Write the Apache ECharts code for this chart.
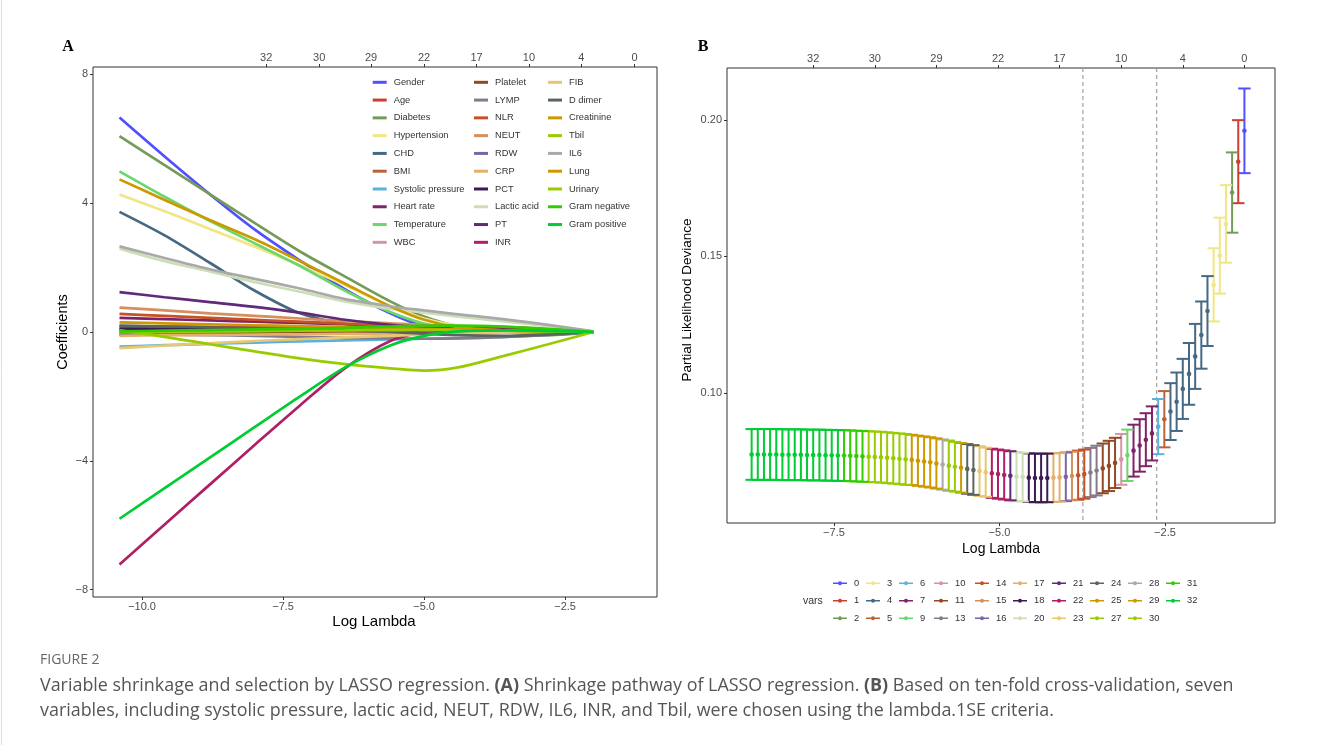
<!DOCTYPE html>
<html><head><meta charset="utf-8">
<script src="https://cdn.jsdelivr.net/npm/echarts@6/dist/echarts.min.js"></script>
<style>html,body{margin:0;padding:0;background:#fff}#c{width:1328px;height:745px}</style>
</head><body><div id="c"></div>
<script>
// ---------- Panel A: coefficient paths (log lambda nodes) ----------
const pathX = [-10.4, -9.6, -8.8, -8.0, -7.2, -6.4, -5.6, -5.0, -4.4, -3.6, -2.8, -2.0];
const gender       = [6.66, 5.45, 4.28, 3.18, 2.22, 1.32, 0.58, 0.18, 0.03, 0.0, 0.0, 0.0];
const age          = [0.18, 0.17, 0.16, 0.15, 0.13, 0.11, 0.09, 0.07, 0.05, 0.03, 0.01, 0.0];
const diabetes     = [6.08, 5.18, 4.28, 3.38, 2.5, 1.72, 0.95, 0.48, 0.18, 0.0, -0.1, 0.0];
const hypertension = [4.27, 3.75, 3.2, 2.65, 2.07, 1.45, 0.8, 0.42, 0.2, 0.08, 0.03, 0.0];
const chd          = [3.73, 3.0, 2.15, 1.28, 0.58, 0.25, 0.12, 0.06, 0.03, 0.01, 0.0, 0.0];
const bmi          = [0.05, 0.04, 0.03, 0.02, 0.01, 0.0, -0.02, -0.03, -0.03, -0.02, -0.01, 0.0];
const systolic     = [-0.45, -0.41, -0.37, -0.33, -0.29, -0.26, -0.23, -0.21, -0.19, -0.15, -0.09, 0.0];
const heartRate    = [0.44, 0.4, 0.36, 0.32, 0.28, 0.24, 0.2, 0.16, 0.12, 0.08, 0.04, 0.0];
const temperature  = [4.99, 4.2, 3.45, 2.75, 2.05, 1.28, 0.62, 0.26, 0.08, 0.0, 0.0, 0.0];
const wbc          = [0.08, 0.07, 0.06, 0.05, 0.04, 0.03, 0.02, 0.02, 0.01, 0.01, 0.0, 0.0];
const platelet     = [-0.08, -0.07, -0.06, -0.05, -0.04, -0.04, -0.03, -0.03, -0.02, -0.02, -0.01, 0.0];
const lymp         = [-0.05, -0.08, -0.1, -0.12, -0.15, -0.18, -0.2, -0.21, -0.2, -0.16, -0.09, 0.0];
const nlr          = [0.56, 0.5, 0.44, 0.38, 0.32, 0.26, 0.2, 0.16, 0.12, 0.08, 0.04, 0.0];
const neut         = [0.76, 0.67, 0.58, 0.5, 0.42, 0.34, 0.27, 0.22, 0.18, 0.13, 0.07, 0.0];
const rdw          = [0.12, 0.12, 0.12, 0.13, 0.14, 0.15, 0.15, 0.14, 0.12, 0.09, 0.05, 0.0];
const crp          = [-0.12, -0.1, -0.09, -0.08, -0.07, -0.06, -0.05, -0.04, -0.03, -0.02, -0.01, 0.0];
const pct          = [0.1, 0.09, 0.08, 0.07, 0.06, 0.05, 0.04, 0.03, 0.02, 0.01, 0.0, 0.0];
const lactic       = [2.59, 2.2, 1.88, 1.55, 1.25, 0.95, 0.72, 0.6, 0.48, 0.33, 0.18, 0.02];
const pt           = [1.24, 1.08, 0.93, 0.78, 0.6, 0.38, 0.22, 0.15, 0.12, 0.1, 0.06, 0.0];
const inr          = [-7.22, -5.98, -4.74, -3.5, -2.28, -1.12, -0.28, 0.0, 0.12, 0.15, 0.08, 0.0];
const fib          = [-0.5, -0.42, -0.35, -0.28, -0.22, -0.17, -0.12, -0.08, -0.05, -0.02, 0.0, 0.0];
const ddimer       = [0.2, 0.17, 0.14, 0.11, 0.08, 0.05, 0.0, -0.05, -0.1, -0.12, -0.08, 0.0];
const creatinine   = [4.74, 4.1, 3.48, 2.88, 2.2, 1.5, 0.8, 0.38, 0.15, 0.05, 0.02, 0.0];
const tbil         = [0.05, -0.15, -0.38, -0.6, -0.82, -1.0, -1.13, -1.2, -1.1, -0.75, -0.38, 0.0];
const il6          = [2.66, 2.3, 1.95, 1.65, 1.35, 1.02, 0.8, 0.67, 0.55, 0.4, 0.22, 0.02];
const lung         = [0.3, 0.27, 0.24, 0.21, 0.18, 0.15, 0.12, 0.1, 0.08, 0.05, 0.02, 0.0];
const urinary      = [0.0, 0.01, 0.02, 0.03, 0.04, 0.05, 0.06, 0.06, 0.05, 0.04, 0.02, 0.0];
const gramNeg      = [0.02, 0.04, 0.06, 0.08, 0.1, 0.13, 0.17, 0.2, 0.2, 0.17, 0.1, 0.0];
const gramPos      = [-5.8, -4.85, -3.9, -2.95, -2.0, -1.1, -0.42, -0.12, 0.02, 0.05, 0.03, 0.0];

const varNames = ['Gender','Age','Diabetes','Hypertension','CHD','BMI','Systolic pressure','Heart rate','Temperature','WBC',
  'Platelet','LYMP','NLR','NEUT','RDW','CRP','PCT','Lactic acid','PT','INR',
  'FIB','D dimer','Creatinine','Tbil','IL6','Lung','Urinary','Gram negative','Gram positive'];
const varValues = [gender, age, diabetes, hypertension, chd, bmi, systolic, heartRate, temperature, wbc,
  platelet, lymp, nlr, neut, rdw, crp, pct, lactic, pt, inr,
  fib, ddimer, creatinine, tbil, il6, lung, urinary, gramNeg, gramPos];

const xTicksA = [-10, -7.5, -5, -2.5];
const yTicksA = [-8, -4, 0, 4, 8];
const topTicksA = [-7.80, -6.86, -5.94, -5.00, -4.07, -3.14, -2.21, -1.27];
const topLabelsA = ['32','30','29','22','17','10','4','0'];

// ---------- Panel B: cross-validation curve ----------
const logLambda = [-1.300,-1.393,-1.486,-1.579,-1.672,-1.765,-1.858,-1.951,-2.044,-2.137,
 -2.231,-2.324,-2.417,-2.510,-2.603,-2.696,-2.789,-2.882,-2.975,-3.068,
 -3.161,-3.254,-3.347,-3.440,-3.533,-3.626,-3.719,-3.812,-3.905,-3.998,
 -4.092,-4.185,-4.278,-4.371,-4.464,-4.557,-4.650,-4.743,-4.836,-4.929,
 -5.022,-5.115,-5.208,-5.301,-5.394,-5.487,-5.580,-5.673,-5.766,-5.859,
 -5.953,-6.046,-6.139,-6.232,-6.325,-6.418,-6.511,-6.604,-6.697,-6.790,
 -6.883,-6.976,-7.069,-7.162,-7.255,-7.348,-7.441,-7.534,-7.627,-7.720,
 -7.814,-7.907,-8.000,-8.093,-8.186,-8.279,-8.372,-8.465,-8.558,-8.651,
 -8.744];
const cvm = [0.1960,0.1847,0.1734,0.1619,0.1503,0.1396,0.1300,0.1212,0.1134,0.1070,
 0.1015,0.0968,0.0932,0.0904,0.0877,0.0852,0.0829,0.0808,0.0789,0.0772,
 0.0757,0.0744,0.0733,0.0724,0.0716,0.0709,0.0703,0.0699,0.0696,0.0693,
 0.0691,0.0690,0.0689,0.0689,0.0689,0.0690,0.0692,0.0694,0.0697,0.0700,
 0.0703,0.0706,0.0710,0.0714,0.0718,0.0722,0.0726,0.0730,0.0734,0.0738,
 0.0742,0.0746,0.0749,0.0752,0.0755,0.0757,0.0759,0.0761,0.0763,0.0765,
 0.0766,0.0767,0.0768,0.0769,0.0770,0.0771,0.0771,0.0772,0.0772,0.0773,
 0.0773,0.0773,0.0774,0.0774,0.0774,0.0774,0.0775,0.0775,0.0775,0.0775,
 0.0775];
const cvsd = [0.0155,0.0152,0.0147,0.0142,0.0139,0.0134,0.0128,0.0123,0.0119,0.0113,
 0.0110,0.0107,0.0104,0.0103,0.0101,0.0099,0.0097,0.0096,0.0095,0.0094,
 0.0093,0.0092,0.0092,0.0091,0.0091,0.0090,0.0090,0.0090,0.0089,0.0089,
 0.0089,0.0089,0.0089,0.0089,0.0089,0.0089,0.0089,0.0090,0.0090,0.0090,
 0.0090,0.0090,0.0090,0.0091,0.0091,0.0091,0.0091,0.0091,0.0092,0.0092,
 0.0092,0.0092,0.0092,0.0092,0.0092,0.0093,0.0093,0.0093,0.0093,0.0093,
 0.0093,0.0093,0.0093,0.0093,0.0093,0.0093,0.0093,0.0093,0.0093,0.0093,
 0.0093,0.0093,0.0093,0.0093,0.0093,0.0093,0.0093,0.0093,0.0093,0.0093,
 0.0093];
const nzero = [0,1,2,3,3,3,4,4,4,4,
 4,4,4,5,6,7,7,7,7,9,
 10,11,11,11,13,13,14,14,15,16,
 17,17,18,18,18,18,20,20,21,22,
 22,22,23,23,24,24,25,27,27,28,
 29,29,29,29,29,30,30,30,30,30,
 30,30,31,31,31,31,32,32,32,32,
 32,32,32,32,32,32,32,32,32,32,
 32];
const varLevels = [0,1,2,3,4,5,6,7,9,10,11,13,14,15,16,17,18,20,21,22,23,24,25,27,28,29,30,31,32];
const cvLines = [-3.74, -2.625];
const xTicksB = [-7.5, -5, -2.5];
const yTicksB = [0.10, 0.15, 0.20];
const topTicksB = [-7.814,-6.883,-5.953,-5.022,-4.092,-3.161,-2.231,-1.300];
const topLabelsB = ['32','30','29','22','17','10','4','0'];

// ---------- styles ----------
const IGV = ['#5050FF','#CE3D32','#749B58','#F0E685','#466983','#BA6338','#5DB1DD','#802268','#6BD76B','#D595A7',
 '#924822','#837B8D','#C75127','#D58F5C','#7A65A5','#E4AF69','#3B1B53','#CDDEB7','#612A79','#AE1F63',
 '#E7C76F','#5A655E','#CC9900','#99CC00','#A9A9A9','#CC9900','#99CC00','#33CC00','#00CC33'];
const FF = 'Liberation Sans, Arial, sans-serif';
const LBL = {color:'#4d4d4d', fontSize:11, fontFamily:FF};
const TICK = {show:true, length:3, lineStyle:{color:'#333', width:1}};
function minus(s){ return s.replace('-', '\u2212'); }
function fmt1(v){ return minus((+v).toFixed(1)); }
function fmt0(v){ return minus(String(Math.round(v))); }
function fmt2(v){ return (+v).toFixed(2); }
function lookup(ticks, labels){
  return function(v){ let bi=0, bd=1e9; ticks.forEach((t,i)=>{const d=Math.abs(t-v); if(d<bd){bd=d;bi=i;}}); return labels[bi]; };
}

const chart = echarts.init(document.getElementById('c'), null, {renderer:'canvas'});

const seriesA = varNames.map((n,i)=>({
  name:n, type:'line', xAxisIndex:0, yAxisIndex:0,
  data: pathX.map((x,k)=>[x, varValues[i][k]]),
  smooth:0.3, showSymbol:false, symbol:'none',
  lineStyle:{color:IGV[i], width:2.7}, itemStyle:{color:IGV[i]},
  emphasis:{disabled:true}, silent:true, z:2
}));

function errRender(params, api){
  const x = api.value(0), m = api.value(1), s = api.value(2);
  const hi = api.coord([x, m+s]), lo = api.coord([x, m-s]), mid = api.coord([x, m]);
  const c = api.visual('color'); const cap = 6.2;
  const st = {stroke:c, lineWidth:2};
  return {type:'group', children:[
    {type:'line', shape:{x1:hi[0], y1:hi[1], x2:lo[0], y2:lo[1]}, style:st},
    {type:'line', shape:{x1:hi[0]-cap, y1:hi[1], x2:hi[0]+cap, y2:hi[1]}, style:st},
    {type:'line', shape:{x1:lo[0]-cap, y1:lo[1], x2:lo[0]+cap, y2:lo[1]}, style:st},
    {type:'circle', shape:{cx:mid[0], cy:mid[1], r:2.3}, style:{fill:c}}
  ]};
}

const seriesB = varLevels.map((lv,i)=>{
  const d = [];
  for (let k=logLambda.length-1; k>=0; k--) if (nzero[k]===lv) d.push([logLambda[k], cvm[k], cvsd[k]]);
  return {name:String(lv), type:'custom', xAxisIndex:2, yAxisIndex:1, data:d,
    encode:{x:0, y:1}, renderItem:errRender, itemStyle:{color:IGV[i]}, silent:true, z:3, clip:false};
});

const vlineSeries = {
  type:'custom', xAxisIndex:2, yAxisIndex:1, data: cvLines.map(v=>[v, 0.1]), encode:{x:0,y:1}, silent:true, z:2,
  renderItem:function(params, api){
    const px = api.coord([api.value(0), api.value(1)])[0];
    const cs = params.coordSys;
    return {type:'line', shape:{x1:px, y1:cs.y, x2:px, y2:cs.y+cs.height},
      style:{stroke:'#9a9a9a', lineWidth:1.1, lineDash:[4,3]}};
  }
};

const colsA = [varNames.slice(0,10), varNames.slice(10,20), varNames.slice(20)];
const leftsA = [372.7, 474, 548];
const legendsA = colsA.map((d,i)=>({
  data:d, orient:'vertical', left:leftsA[i], top:76.3, padding:0, itemWidth:14, itemHeight:3,
  itemGap:5.78, icon:'rect', selectedMode:false,
  textStyle:{fontSize:9.3, color:'#333', fontFamily:FF, lineHeight:12, padding:[0,0,0,2]}
}));
const colsB = [];
for (let i=0;i<varLevels.length;i+=3) colsB.push(varLevels.slice(i,i+3).map(String));
const leftsB = [833, 866, 899, 934, 975, 1013, 1052, 1090, 1128, 1166];
const keyIcon = 'path://M0,1.3L5.2,1.3L5.2,2.7L0,2.7Z M8.8,1.3L14,1.3L14,2.7L8.8,2.7Z M5,2A2,2 0 1,1 9,2A2,2 0 1,1 5,2Z';
const legendsB = colsB.map((d,i)=>({
  data:d, orient:'vertical', left:leftsB[i], top:577.3, padding:0, itemWidth:14, itemHeight:4,
  itemGap:5.5, icon:keyIcon, selectedMode:false,
  textStyle:{fontSize:9.3, color:'#333', fontFamily:FF, lineHeight:12, padding:[0,0,0,2]}
}));

function txt(x, y, text, size, opts){
  opts = opts || {};
  return {type:'text', x:x, y:y, rotation:opts.rot||0, silent:true, z:10,
    style:{text:text, fontSize:size, fontFamily:opts.ff||FF, fontWeight:opts.fw||'normal', fill:opts.fill||'#000',
      align:opts.align||'center', verticalAlign:'middle', textAlign:opts.align||'center', textVerticalAlign:'middle', rich:opts.rich}};
}
const CAPF = 'Open Sans, Noto Sans, sans-serif';
const rich = {b:{fontWeight:'bold', fontSize:17.9, fontFamily:CAPF, fill:'#555'}};

const option = {
  animation:false,
  backgroundColor:'#fff',
  grid:[
    {left:93, top:67, width:564, height:530, show:true, borderColor:'#333', borderWidth:1, backgroundColor:'transparent'},
    {left:727, top:68, width:548, height:455, show:true, borderColor:'#333', borderWidth:1, backgroundColor:'transparent'}
  ],
  xAxis:[
    {gridIndex:0, type:'value', min:-10.87, max:-0.87, position:'bottom', axisLine:{show:false, onZero:false}, splitLine:{show:false},
      axisTick:Object.assign({customValues:xTicksA}, TICK), axisLabel:Object.assign({margin:4, customValues:xTicksA, formatter:fmt1}, LBL)},
    {gridIndex:0, type:'value', min:-10.87, max:-0.87, position:'top', axisLine:{show:false, onZero:false}, splitLine:{show:false},
      axisTick:Object.assign({customValues:topTicksA}, TICK), axisLabel:Object.assign({margin:4, customValues:topTicksA, formatter:lookup(topTicksA, topLabelsA)}, LBL)},
    {gridIndex:1, type:'value', min:-9.116, max:-0.838, position:'bottom', axisLine:{show:false, onZero:false}, splitLine:{show:false},
      axisTick:Object.assign({customValues:xTicksB}, TICK), axisLabel:Object.assign({margin:4, customValues:xTicksB, formatter:fmt1}, LBL)},
    {gridIndex:1, type:'value', min:-9.116, max:-0.838, position:'top', axisLine:{show:false, onZero:false}, splitLine:{show:false},
      axisTick:Object.assign({customValues:topTicksB}, TICK), axisLabel:Object.assign({margin:4, customValues:topTicksB, formatter:lookup(topTicksB, topLabelsB)}, LBL)}
  ],
  yAxis:[
    {gridIndex:0, type:'value', min:-8.23, max:8.23, axisLine:{show:false, onZero:false}, splitLine:{show:false},
      axisTick:Object.assign({customValues:yTicksA}, TICK), axisLabel:Object.assign({margin:5, customValues:yTicksA, formatter:fmt0}, LBL)},
    {gridIndex:1, type:'value', min:0.0524, max:0.2190, axisLine:{show:false, onZero:false}, splitLine:{show:false},
      axisTick:Object.assign({customValues:yTicksB}, TICK), axisLabel:Object.assign({margin:5, customValues:yTicksB, formatter:fmt2}, LBL)}
  ],
  legend: legendsA.concat(legendsB),
  series: seriesA.concat([vlineSeries]).concat(seriesB),
  graphic:[
    {type:'line', silent:true, shape:{x1:1.5, y1:0, x2:1.5, y2:745}, style:{stroke:'#dddddd', lineWidth:1}},
    txt(68, 47, 'A', 16, {ff:'Liberation Serif, DejaVu Serif, serif', fw:'bold'}),
    txt(703, 47, 'B', 16, {ff:'Liberation Serif, DejaVu Serif, serif', fw:'bold'}),
    txt(374, 622, 'Log Lambda', 15),
    txt(63, 332, 'Coefficients', 14.5, {rot:Math.PI/2}),
    txt(1001, 549, 'Log Lambda', 14),
    txt(687, 300, 'Partial Likelihood Deviance', 13.5, {rot:Math.PI/2}),
    txt(803, 601, 'vars', 10.5, {align:'left', fill:'#333'}),
    txt(40, 660, 'FIGURE 2', 14, {align:'left', fill:'#666', ff:CAPF}),
    txt(40, 686, 'Variable shrinkage and selection by LASSO regression. {b|(A)} Shrinkage pathway of LASSO regression. {b|(B)} Based on ten-fold cross-validation, seven', 17.9, {align:'left', fill:'#555', ff:CAPF, rich:rich}),
    txt(40, 711, 'variables, including systolic pressure, lactic acid, NEUT, RDW, IL6, INR, and Tbil, were chosen using the lambda.1SE criteria.', 17.9, {align:'left', fill:'#555', ff:CAPF})
  ]
};
chart.setOption(option);
</script></body></html>
